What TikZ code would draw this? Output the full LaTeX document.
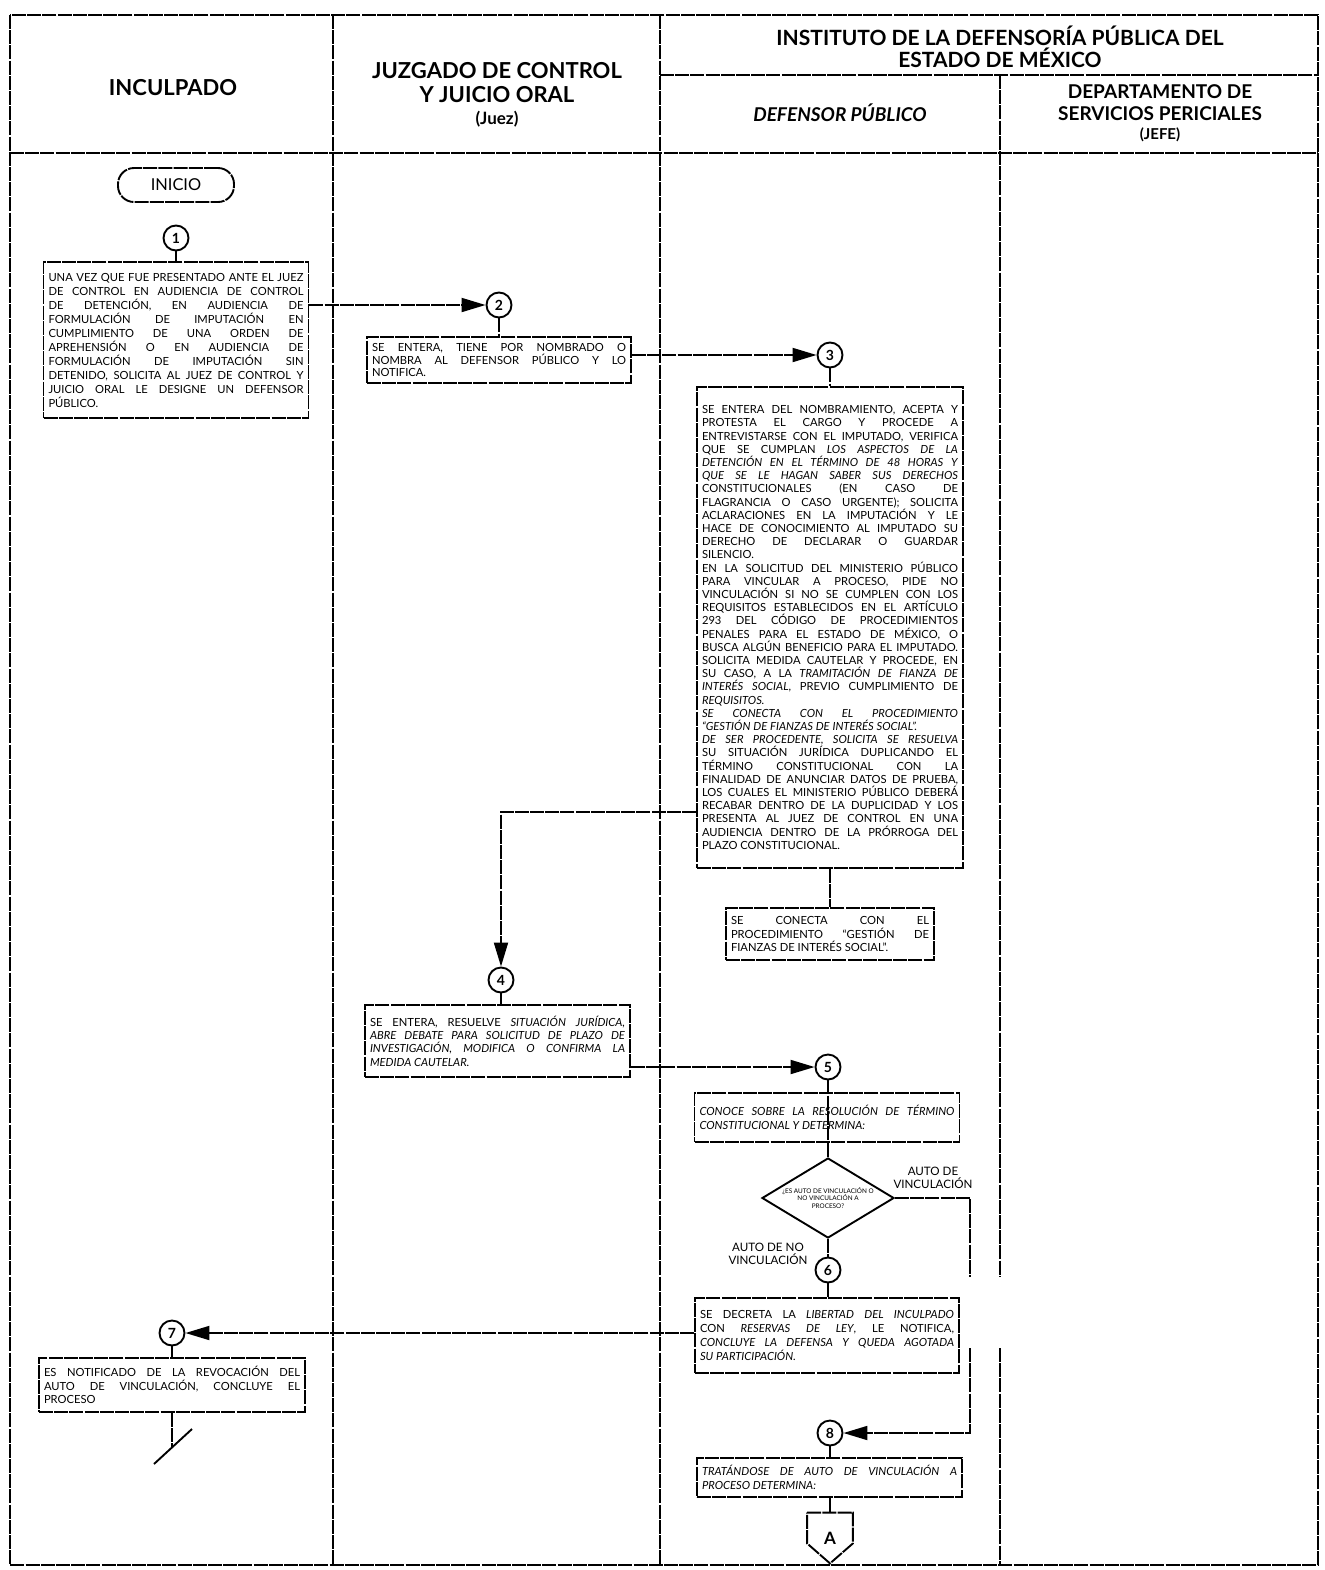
\documentclass[tikz,border=0pt]{standalone}
\usepackage{fontspec}
\setmainfont{Lato}
\usetikzlibrary{arrows.meta,shapes.geometric,calc}
\newcommand\xjl[1]{\hbox to\hsize{\spaceskip=.25em plus 1fil minus .08em\relax #1}}
\newcommand\xll[1]{\hbox to\hsize{\spaceskip=.25em minus .08em\relax #1\hfil}}
\newcommand\tb[3]{\vbox{\hsize=#1\fontsize{5.6}{#2}\selectfont\frenchspacing #3}}
\tikzset{
 ln/.style={line width=0.95pt, dash pattern=on 7pt off 0.6pt},
 lane/.style={line width=0.85pt, dash pattern=on 7pt off 0.6pt},
 bx/.style={draw, ln, rectangle, inner sep=0pt},
 cir/.style={draw, circle, line width=0.95pt, minimum size=12.5pt, inner sep=0pt, font=\fontsize{7}{7}\selectfont\bfseries},
 arr/.style={ln, -{Triangle[length=12pt,width=7pt]}},
 hd/.style={font=\fontsize{11}{12}\selectfont\bfseries, align=center},
 lbl/.style={font=\fontsize{5.8}{6.6}\selectfont, align=center},
}
\begin{document}
\begin{tikzpicture}[x=0.5pt,y=-0.5pt]
\useasboundingbox (0,0) rectangle (1324,1570);
% lanes
\draw[lane] (10,15) rectangle (1318,1565);
\draw[lane] (333,15) -- (333,1565);
\draw[lane] (660,15) -- (660,1565);
\draw[lane] (1000,75) -- (1000,1277);
\draw[lane] (1000,1348) -- (1000,1565);
\draw[lane] (660,75) -- (1318,75);
\draw[lane] (10,153) -- (1318,153);
% headers
\node[hd] (hInc) at (173,88) {INCULPADO};
\node[hd] (hJuz) at (497,95) {JUZGADO DE CONTROL\\Y JUICIO ORAL\\[-1pt]{\fontsize{8.5}{10}\selectfont(Juez)}};
\node[hd, font=\fontsize{10.5}{11}\selectfont\bfseries] (hIns) at (1000,47) {INSTITUTO DE LA DEFENSORÍA PÚBLICA DEL\\ESTADO DE MÉXICO};
\node[font=\fontsize{9.5}{11}\selectfont\bfseries\itshape] (hDef) at (840,113) {DEFENSOR PÚBLICO};
\node[font=\fontsize{9.5}{11}\selectfont\bfseries, align=center] (hDep) at (1160,113) {DEPARTAMENTO DE\\SERVICIOS PERICIALES\\[-1.5pt]{\fontsize{7.5}{9}\selectfont(JEFE)}};
% nodes
\node[draw, ln, rounded corners=8pt, minimum width=58pt, minimum height=17pt, inner sep=0pt, font=\fontsize{8.2}{9}\selectfont] (ini) at (176,185) {INICIO};
\node[cir] (c1) at (176,238) {1};
\node[bx, minimum width=132.5pt, minimum height=78pt] (b1) at (176,340) {\tb{127.5pt}{7pt}{
\xjl{UNA VEZ QUE FUE PRESENTADO ANTE EL JUEZ}
\xjl{DE CONTROL EN AUDIENCIA DE CONTROL}
\xjl{DE DETENCIÓN, EN AUDIENCIA DE}
\xjl{FORMULACIÓN DE IMPUTACIÓN EN}
\xjl{CUMPLIMIENTO DE UNA ORDEN DE}
\xjl{APREHENSIÓN O EN AUDIENCIA DE}
\xjl{FORMULACIÓN DE IMPUTACIÓN SIN}
\xjl{DETENIDO, SOLICITA AL JUEZ DE CONTROL Y}
\xjl{JUICIO ORAL LE DESIGNE UN DEFENSOR}
\xll{PÚBLICO.}}};
\node[cir] (c2) at (499,305) {2};
\node[bx, minimum width=132pt, minimum height=23pt] (b2) at (499,360) {\tb{127pt}{6.3pt}{
\xjl{SE ENTERA, TIENE POR NOMBRADO O}
\xjl{NOMBRA AL DEFENSOR PÚBLICO Y LO}
\xll{NOTIFICA.}}};
\node[cir] (c3) at (830,355) {3};
\node[bx, minimum width=133pt, minimum height=240.5pt] (b3) at (830,627.5) {\tb{128pt}{6.6pt}{
\xjl{SE ENTERA DEL NOMBRAMIENTO, ACEPTA Y}
\xjl{PROTESTA EL CARGO Y PROCEDE A}
\xjl{ENTREVISTARSE CON EL IMPUTADO, VERIFICA}
\xjl{QUE SE CUMPLAN \textit{LOS ASPECTOS DE LA}}
\xjl{\textit{DETENCIÓN EN EL TÉRMINO DE 48 HORAS Y}}
\xjl{\textit{QUE SE LE HAGAN SABER SUS DERECHOS}}
\xjl{CONSTITUCIONALES (EN CASO DE}
\xjl{FLAGRANCIA O CASO URGENTE); SOLICITA}
\xjl{ACLARACIONES EN LA IMPUTACIÓN Y LE}
\xjl{HACE DE CONOCIMIENTO AL IMPUTADO SU}
\xjl{DERECHO DE DECLARAR O GUARDAR}
\xll{SILENCIO.}
\xjl{EN LA SOLICITUD DEL MINISTERIO PÚBLICO}
\xjl{PARA VINCULAR A PROCESO, PIDE NO}
\xjl{VINCULACIÓN SI NO SE CUMPLEN CON LOS}
\xjl{REQUISITOS ESTABLECIDOS EN EL ARTÍCULO}
\xjl{293 DEL CÓDIGO DE PROCEDIMIENTOS}
\xjl{PENALES PARA EL ESTADO DE MÉXICO, O}
\xjl{BUSCA ALGÚN BENEFICIO PARA EL IMPUTADO.}
\xjl{SOLICITA MEDIDA CAUTELAR Y PROCEDE, EN}
\xjl{SU CASO, A LA \textit{TRAMITACIÓN DE FIANZA DE}}
\xjl{\textit{INTERÉS SOCIAL}, PREVIO CUMPLIMIENTO DE}
\xll{\textit{REQUISITOS.}}
\xjl{\textit{SE CONECTA CON EL PROCEDIMIENTO}}
\xll{\textit{“GESTIÓN DE FIANZAS DE INTERÉS SOCIAL”.}}
\xjl{\textit{DE SER PROCEDENTE, SOLICITA SE RESUELVA}}
\xjl{SU SITUACIÓN JURÍDICA DUPLICANDO EL}
\xjl{TÉRMINO CONSTITUCIONAL CON LA}
\xjl{FINALIDAD DE ANUNCIAR DATOS DE PRUEBA,}
\xjl{LOS CUALES EL MINISTERIO PÚBLICO DEBERÁ}
\xjl{RECABAR DENTRO DE LA DUPLICIDAD Y LOS}
\xjl{PRESENTA AL JUEZ DE CONTROL EN UNA}
\xjl{AUDIENCIA DENTRO DE LA PRÓRROGA DEL}
\xll{PLAZO CONSTITUCIONAL.}}};
\node[bx, minimum width=104pt, minimum height=26pt] (b3b) at (830,934) {\tb{99pt}{6.6pt}{
\xjl{SE CONECTA CON EL}
\xjl{PROCEDIMIENTO “GESTIÓN DE}
\xll{FIANZAS DE INTERÉS SOCIAL”.}}};
\node[cir] (c4) at (501,980) {4};
\node[bx, minimum width=132.5pt, minimum height=36pt] (b4) at (497.5,1041) {\tb{127.5pt}{6.7pt}{
\xjl{SE ENTERA, RESUELVE \textit{SITUACIÓN JURÍDICA,}}
\xjl{\textit{ABRE DEBATE PARA SOLICITUD DE PLAZO DE}}
\xjl{\textit{INVESTIGACIÓN, MODIFICA O CONFIRMA LA}}
\xll{\textit{MEDIDA CAUTELAR.}}}};
\node[cir] (c5) at (828,1067) {5};
\node[bx, minimum width=132.5pt, minimum height=24.5pt] (b5) at (827,1117.5) {\tb{127.5pt}{7pt}{
\xjl{\textit{CONOCE SOBRE LA RESOLUCIÓN DE TÉRMINO}}
\xll{\textit{CONSTITUCIONAL Y DETERMINA:}}}};
\node[draw, diamond, line width=0.95pt, minimum width=66pt, minimum height=40pt, inner sep=0pt] (d) at (828,1198) {};
\node[font=\fontsize{3.2}{3.7}\selectfont, align=center] (dt) at (d) {¿ES AUTO DE VINCULACIÓN O\\NO VINCULACIÓN A\\PROCESO?};
\node[lbl] (l1) at (933,1178) {AUTO DE\\VINCULACIÓN};
\node[lbl] (l2) at (768,1254) {AUTO DE NO\\VINCULACIÓN};
\node[cir] (c6) at (828,1270) {6};
\node[bx, minimum width=132pt, minimum height=37.5pt] (b6) at (827,1335.5) {\tb{127pt}{7pt}{
\xjl{SE DECRETA LA \textit{LIBERTAD DEL INCULPADO}}
\xjl{CON \textit{RESERVAS DE LEY}, LE NOTIFICA,}
\xjl{\textit{CONCLUYE LA DEFENSA Y QUEDA AGOTADA}}
\xll{\textit{SU PARTICIPACIÓN.}}}};
\node[cir] (c7) at (172,1333) {7};
\node[bx, minimum width=133pt, minimum height=27pt] (b7) at (172,1385) {\tb{128pt}{6.6pt}{
\xjl{ES NOTIFICADO DE LA REVOCACIÓN DEL}
\xjl{AUTO DE VINCULACIÓN, CONCLUYE EL}
\xll{PROCESO}}};
\node[cir] (c8) at (830,1433) {8};
\node[bx, minimum width=132.5pt, minimum height=19.5pt] (b8) at (829.5,1477.5) {\tb{127.5pt}{7pt}{
\xjl{\textit{TRATÁNDOSE DE AUTO DE VINCULACIÓN A}}
\xll{\textit{PROCESO DETERMINA:}}}};
\node[minimum width=22.5pt, minimum height=25pt, inner sep=0pt, font=\fontsize{8.5}{9}\selectfont\bfseries] (pA) at (830,1538) {A};
\draw[ln] (pA.north west) -- (pA.north east) -- ($(pA.south east)+(0,-20)$) -- (pA.south) -- ($(pA.south west)+(0,-20)$) -- cycle;
% helper coordinates
\coordinate (k4) at (501,812);
\coordinate (v1) at (970,1198);
\coordinate (v2) at (970,1277);
\coordinate (v3) at (970,1348);
\coordinate (v4) at (970,1433);
\coordinate (e1) at (172,1447);
\coordinate (e2) at (154,1464);
\coordinate (e3) at (192,1429);
% connectors
\draw[ln] (c1) -- (b1);
\draw[arr] (b1.east |- c2) -- (c2);
\draw[ln] (c2) -- (b2);
\draw[arr] (b2.east |- c3) -- (c3);
\draw[ln] (c3) -- (b3);
\draw[ln] (b3) -- (b3b);
\draw[arr] (b3.west |- k4) -- (k4) -- (c4);
\draw[ln] (c4.south) -- (c4.south |- b4.north);
\draw[arr] (b4.east |- c5) -- (c5);
\draw[ln] (c5.south) -- (c5.south |- b5.south);
\draw[ln] (b5.south -| d.north) -- (d.north);
\draw[ln] (d.east) -- (v1) -- (v2);
\draw[arr] (v3) -- (v4) -- (c8);
\draw[ln] (d.south) -- (c6);
\draw[ln] (c6.south) -- (c6.south |- b6.north);
\draw[arr] (b6.west |- c7) -- (c7);
\draw[ln] (c7) -- (b7);
\draw[ln] (b7.south -| e1) -- (e1);
\draw[line width=0.95pt] (e2) -- (e3);
\draw[ln] (c8) -- (c8 |- b8.north);
\draw[ln] (b8.south -| pA.north) -- (pA.north);
\end{tikzpicture}
\end{document}
